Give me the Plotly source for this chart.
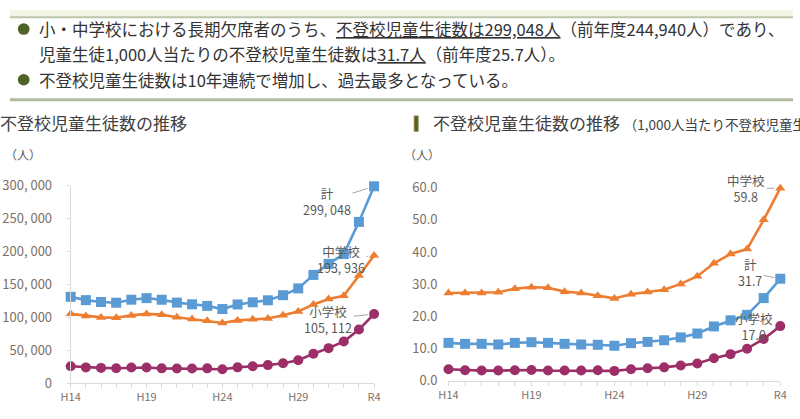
import plotly.graph_objects as go

# ---- data ----
years = ["H14", "H15", "H16", "H17", "H18", "H19", "H20", "H21", "H22", "H23", "H24",
         "H25", "H26", "H27", "H28", "H29", "H30", "R1", "R2", "R3", "R4"]
shown_years = ["H14", "H19", "H24", "H29", "R4"]

total = [131252, 126226, 123358, 122287, 126894, 129255, 126805, 122432, 119891, 117458, 112689,
         119617, 122897, 125991, 133683, 144031, 164528, 181272, 196127, 244940, 299048]
junior = [105383, 102149, 100040, 99578, 103069, 105328, 104153, 100105, 97428, 94836, 91446,
          95442, 97033, 98408, 103235, 108999, 119687, 127922, 132777, 163442, 193936]
elem = [25869, 24077, 23318, 22709, 23825, 23927, 22652, 22327, 22463, 22622, 21243,
        24175, 25864, 27583, 30448, 35032, 44841, 53350, 63350, 81498, 105112]

total_rate = [11.8, 11.5, 11.5, 11.3, 11.8, 12.0, 11.8, 11.5, 11.3, 11.2, 10.9,
              11.7, 12.1, 12.6, 13.5, 14.7, 16.9, 18.8, 20.5, 25.7, 31.7]
junior_rate = [27.3, 27.3, 27.3, 27.5, 28.6, 29.1, 28.9, 27.7, 27.3, 26.4, 25.6,
               26.9, 27.6, 28.3, 30.1, 32.5, 36.5, 39.4, 40.9, 50.0, 59.8]
elem_rate = [3.6, 3.3, 3.2, 3.2, 3.3, 3.4, 3.2, 3.2, 3.2, 3.3, 3.1,
             3.6, 3.9, 4.2, 4.8, 5.4, 7.0, 8.3, 10.0, 13.0, 17.0]

left_ticks = [0, 50000, 100000, 150000, 200000, 250000, 300000]
left_ticktext = ["0", "50, 000", "100, 000", "150, 000", "200, 000", "250, 000", "300, 000"]
right_ticks = [0, 10, 20, 30, 40, 50, 60]
right_ticktext = ["0.0", "10.0", "20.0", "30.0", "40.0", "50.0", "60.0"]

names = ["計", "中学校", "小学校"]

# ---- style ----
W, H = 800, 419
BLUE, ORANGE, MAROON = "#5b9bd5", "#ed7d31", "#9c2f67"
JP = "Noto Sans CJK JP"
NARROW = "Liberation Sans Narrow, Noto Sans CJK JP"
TICKC = "#7d7065"


def px(x):
    return x / W


def py(y):
    return 1 - y / H


fig = go.Figure()

series = [
    (total, total_rate, BLUE, "square", 10, names[0]),
    (junior, junior_rate, ORANGE, "triangle-up", 9, names[1]),
    (elem, elem_rate, MAROON, "circle", 10, names[2]),
]
for vals, rates, col, sym, ms, nm in series:
    fig.add_trace(go.Scatter(x=years, y=vals, mode="lines+markers", name=nm,
                             line=dict(color=col, width=2.6),
                             marker=dict(color=col, symbol=sym, size=ms),
                             cliponaxis=False, xaxis="x", yaxis="y", showlegend=False))
    fig.add_trace(go.Scatter(x=years, y=rates, mode="lines+markers", name=nm,
                             line=dict(color=col, width=2.6),
                             marker=dict(color=col, symbol=sym, size=ms),
                             cliponaxis=False, xaxis="x2", yaxis="y2", showlegend=False))

xt = [y if y in shown_years else "" for y in years]
xcommon = dict(type="category", categoryorder="array", categoryarray=years,
               range=[0, len(years) - 1], showgrid=False, zeroline=False,
               showline=True, linecolor="#d9d9d9", linewidth=1,
               ticks="outside", ticklen=4, tickcolor="#d9d9d9",
               tickvals=years, ticktext=xt,
               tickfont=dict(family=NARROW, size=11, color=TICKC))

fig.update_layout(
    width=W, height=H, margin=dict(l=0, r=0, t=0, b=0),
    paper_bgcolor="white", plot_bgcolor="rgba(0,0,0,0)",
    xaxis=dict(domain=[px(62), px(372)], anchor="y", **xcommon),
    xaxis2=dict(domain=[px(448), px(787)], anchor="y2", **xcommon),
    yaxis=dict(domain=[py(391), py(184)], range=[0, 300000], anchor="x",
               tickvals=left_ticks, ticktext=left_ticktext, showgrid=False, zeroline=False,
               showline=True, linecolor="#d9d9d9", ticks="outside", ticklen=3,
               tickcolor="#d9d9d9", ticklabelstandoff=12,
               tickfont=dict(family=NARROW, size=13, color=TICKC)),
    yaxis2=dict(domain=[py(388.5), py(186)], range=[0, 60], anchor="x2",
                tickvals=right_ticks, ticktext=right_ticktext, showgrid=False, zeroline=False,
                showline=False, ticks="", ticklabelstandoff=10,
                tickfont=dict(family=NARROW, size=13, color=TICKC)),
)

shapes = []
# header band and separators
shapes.append(dict(type="rect", xref="paper", yref="paper", x0=0, x1=1, y0=py(7), y1=1,
                   fillcolor="#f2f4e6", line=dict(width=0), layer="below"))
shapes.append(dict(type="line", xref="paper", yref="paper", x0=0, x1=1, y0=py(7.5), y1=py(7.5),
                   line=dict(color="#bcc6ac", width=2)))
shapes.append(dict(type="line", xref="paper", yref="paper", x0=0, x1=1, y0=py(94), y1=py(94),
                   line=dict(color="#aeb9a0", width=3)))
# bullets
for cy in (20, 73):
    shapes.append(dict(type="circle", xref="paper", yref="paper",
                       x0=px(8), x1=px(20), y0=py(cy + 6), y1=py(cy - 6),
                       fillcolor="#4f6228", line=dict(width=0)))
# right title bar
shapes.append(dict(type="rect", xref="paper", yref="paper", x0=px(413), x1=px(417),
                   y0=py(127), y1=py(111), fillcolor="#4f6228",
                   line=dict(color="#9a7b3f", width=1)))
fig.update_layout(shapes=shapes)

TXT = "#333333"
ann = []
ann.append(dict(x=px(28), y=py(20), xref="paper", yref="paper", xanchor="left", yanchor="middle",
                showarrow=False, font=dict(family=JP, size=16.5, color=TXT),
                text="小・中学校における長期欠席者のうち、<u>不登校児童生徒数は299,048人</u>（前年度244,940人）であり、"))
ann.append(dict(x=px(28), y=py(46), xref="paper", yref="paper", xanchor="left", yanchor="middle",
                showarrow=False, font=dict(family=JP, size=16.5, color=TXT),
                text="児童生徒1,000人当たりの不登校児童生徒数は<u>31.7人</u>（前年度25.7人）。"))
ann.append(dict(x=px(28), y=py(73), xref="paper", yref="paper", xanchor="left", yanchor="middle",
                showarrow=False, font=dict(family=JP, size=16.5, color=TXT),
                text="不登校児童生徒数は10年連続で増加し、過去最多となっている。"))
# panel titles
ann.append(dict(x=px(-12), y=py(118), xref="paper", yref="paper", xanchor="left", yanchor="middle",
                showarrow=False, font=dict(family=JP, size=17, color="#404040"),
                text="不登校児童生徒数の推移"))
ann.append(dict(x=px(430), y=py(118), xref="paper", yref="paper", xanchor="left", yanchor="middle",
                showarrow=False, font=dict(family=JP, size=17, color="#404040"),
                text="不登校児童生徒数の推移 <span style='font-size:13.5px'>（1,000人当たり不登校児童生徒数）</span>"))
for x0 in (-7, 400):
    ann.append(dict(x=px(x0), y=py(151), xref="paper", yref="paper", xanchor="left", yanchor="middle",
                    showarrow=False, font=dict(family=JP, size=12, color="#595959"), text="（人）"))

LBL = dict(family=NARROW, size=12.5, color="#595959")
last = years[-1]
# left panel callouts
ann.append(dict(x=last, y=total[-1], xref="x", yref="y", ax=-47, ay=15, showarrow=True,
                arrowhead=0, arrowwidth=1, arrowcolor="#a6a6a6", standoff=7, font=LBL,
                text=f"{names[0]}<br>299, 048"))
ann.append(dict(x=last, y=junior[-1], xref="x", yref="y", ax=-33, ay=4, showarrow=True,
                arrowhead=0, arrowwidth=1, arrowcolor="#a6a6a6", standoff=6, font=LBL,
                text=f"{names[1]}<br>193, 936"))
ann.append(dict(x=last, y=elem[-1], xref="x", yref="y", ax=-46, ay=5, showarrow=True,
                arrowhead=0, arrowwidth=1, arrowcolor="#a6a6a6", standoff=6, font=LBL,
                text=f"{names[2]}<br>105, 112"))
# right panel callouts
ann.append(dict(x=last, y=junior_rate[-1], xref="x2", yref="y2", ax=-34, ay=0, showarrow=True,
                arrowhead=0, arrowwidth=1, arrowcolor="#a6a6a6", standoff=6, font=LBL,
                text=f"{names[1]}<br>59.8"))
ann.append(dict(x=last, y=total_rate[-1], xref="x2", yref="y2", ax=-30, ay=-6, showarrow=True,
                arrowhead=0, arrowwidth=1, arrowcolor="#a6a6a6", standoff=6, font=LBL,
                text=f"{names[0]}<br>31.7"))
ann.append(dict(x=last, y=elem_rate[-1], xref="x2", yref="y2", xshift=-26, yshift=0, showarrow=False,
                font=LBL, text=f"{names[2]}<br>17.0"))
fig.update_layout(annotations=ann)

fig.write_html("out.html")
